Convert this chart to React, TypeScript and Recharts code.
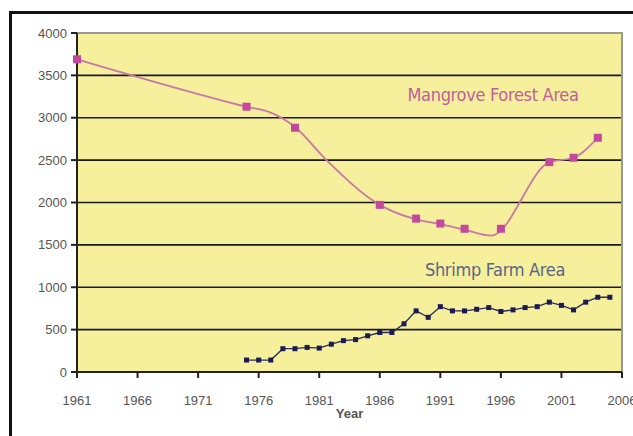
import React from 'react';
import { ComposedChart, Line, XAxis, YAxis, CartesianGrid, ReferenceArea } from 'recharts';

const xTicks = [1961, 1966, 1971, 1976, 1981, 1986, 1991, 1996, 2001, 2006];
const yTicks = [0, 500, 1000, 1500, 2000, 2500, 3000, 3500, 4000];

const mangroveYears = [1961, 1975, 1979, 1986, 1989, 1991, 1993, 1996, 2000, 2002, 2004];
const mangroveArea = [3690, 3130, 2882, 1972, 1810, 1752, 1690, 1690, 2476, 2528, 2764];

const mangroveTrendYears = [1961, 1975, 1977, 1979, 1981.6, 1986, 1989, 1991, 1993, 1995.2, 2000, 2002, 2004];
const mangroveTrendArea = [3690, 3130, 3060, 2890, 2500, 1972, 1800, 1745, 1680, 1610, 2476, 2528, 2764];

const shrimpYears = [1975, 1976, 1977, 1978, 1979, 1980, 1981, 1982, 1983, 1984, 1985, 1986, 1987, 1988, 1989, 1990,
  1991, 1992, 1993, 1994, 1995, 1996, 1997, 1998, 1999, 2000, 2001, 2002, 2003, 2004, 2005];
const shrimpArea = [141, 141, 141, 275, 275, 290, 282, 328, 370, 382, 427, 466, 466, 569, 721, 645,
  771, 721, 721, 740, 760, 714, 733, 760, 771, 824, 786, 733, 824, 882, 882];

const mangroveData = mangroveYears.map((y, i) => ({ year: y, area: mangroveArea[i] }));
const mangroveTrend = mangroveTrendYears.map((y, i) => ({ year: y, area: mangroveTrendArea[i] }));
const shrimpData = shrimpYears.map((y, i) => ({ year: y, area: shrimpArea[i] }));

const tickFont = { fontFamily: 'Liberation Sans, Arial, sans-serif', fontSize: 13, fill: '#555' };

const SquareDot = (size: number, color: string) => (props: any) => {
  const { cx, cy, index } = props;
  if (cx == null || cy == null) return <g key={index} />;
  return <rect key={index} x={cx - size / 2} y={cy - size / 2} width={size} height={size} fill={color} />;
};

export default function App() {
  return (
    <div style={{ position: 'absolute', left: 0, top: 0, width: 633, height: 436, overflow: 'hidden', background: '#fff' }}>
      <div style={{ position: 'absolute', left: 9, top: 11, width: 700, height: 500, border: '3px solid #111', boxSizing: 'border-box' }} />
      <div style={{ position: 'absolute', left: 0, top: 0 }}>
        <ComposedChart width={633} height={436} margin={{ top: 33, right: 11, bottom: 14, left: 0 }}>
          <CartesianGrid vertical={false} horizontal={true} stroke="#1a1a1a" strokeWidth={1.6} fill="#f6ef9c" fillOpacity={1} />
          <ReferenceArea x1={1961} x2={2006} y1={0} y2={4000} fill="none" stroke="#9a9a90" strokeWidth={2} ifOverflow="visible" />
          <XAxis
            type="number"
            dataKey="year"
            domain={[1961, 2006]}
            ticks={xTicks}
            interval={0}
            allowDuplicatedCategory={false}
            height={50}
            tickSize={6}
            tickMargin={18}
            stroke="#222"
            strokeWidth={2}
            tick={tickFont}
            label={{ value: 'Year', position: 'insideBottom', offset: 4, style: { fontFamily: 'Liberation Sans, Arial, sans-serif', fontSize: 13, fill: '#555', fontWeight: 'bold' } }}
          />
          <YAxis
            type="number"
            domain={[0, 4000]}
            ticks={yTicks}
            interval={0}
            width={77}
            tickSize={6}
            tickMargin={4}
            stroke="#222"
            strokeWidth={2}
            tick={tickFont}
          />
          <Line data={mangroveTrend} dataKey="area" type="monotone" stroke="#c878a8" strokeWidth={1.8} dot={false} isAnimationActive={false} />
          <Line data={mangroveData} dataKey="area" stroke="none" dot={SquareDot(8, '#c4489e')} activeDot={false} isAnimationActive={false} />
          <Line data={shrimpData} dataKey="area" type="linear" stroke="#2a2a60" strokeWidth={1.3} dot={SquareDot(5, '#1a1a55')} activeDot={false} isAnimationActive={false} />
        </ComposedChart>
      </div>
      <div style={{ position: 'absolute', left: 403, top: 84, width: 180, textAlign: 'center', fontFamily: 'DejaVu Sans Condensed, sans-serif', fontSize: 18, color: '#c0609a', whiteSpace: 'nowrap', lineHeight: '22px', letterSpacing: -0.3 }}>
        Mangrove Forest Area
      </div>
      <div style={{ position: 'absolute', left: 419, top: 259, width: 152, textAlign: 'center', fontFamily: 'DejaVu Sans Condensed, sans-serif', fontSize: 18, color: '#5a6688', whiteSpace: 'nowrap', lineHeight: '22px', letterSpacing: -0.3 }}>
        Shrimp Farm Area
      </div>
    </div>
  );
}
